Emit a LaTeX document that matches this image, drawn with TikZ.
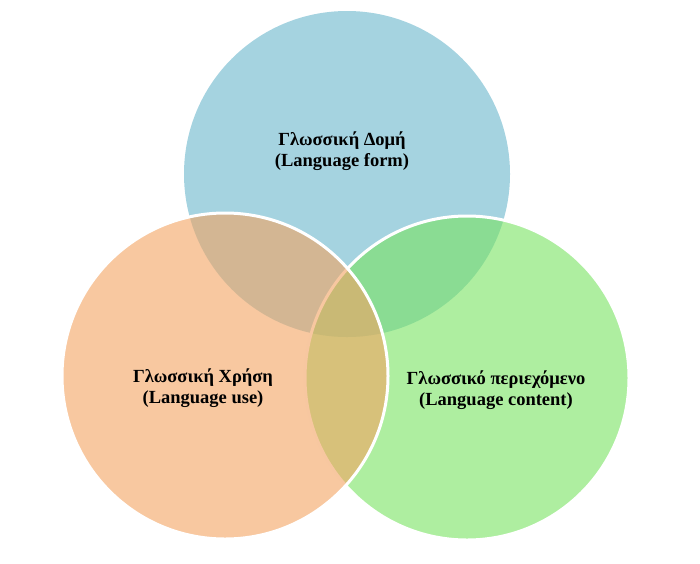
\documentclass[tikz,border=0pt]{standalone}
\usepackage{fontspec}
\setmainfont{Liberation Serif}
\definecolor{formblue}{RGB}{165,211,224}
\definecolor{contentgreen}{RGB}{120,227,97}
\definecolor{useorange}{RGB}{243,163,97}
\begin{document}
\begin{tikzpicture}[x=1pt,y=-1pt,
    venntext/.style={font=\bfseries\fontsize{18.5}{21}\selectfont,align=center,inner sep=0pt},
    vennring/.style={draw=white,line width=3pt,fill opacity=0.6}]
  \useasboundingbox (0,0) rectangle (700,563);
  % circles
  \fill[formblue] (347,174) circle[radius=163pt];
  \filldraw[vennring,fill=contentgreen] (467,378) circle[radius=162pt];
  \filldraw[vennring,fill=useorange] (225,376) circle[radius=163pt];
  % labels
  \node[venntext] (form) at (342,151) {Γλωσσική Δομή\\(Language form)};
  \node[venntext] (use) at (203,388) {Γλωσσική Χρήση\\(Language use)};
  \node[venntext] (content) at (496,390) {Γλωσσικό περιεχόμενο\\(Language content)};
\end{tikzpicture}
\end{document}
